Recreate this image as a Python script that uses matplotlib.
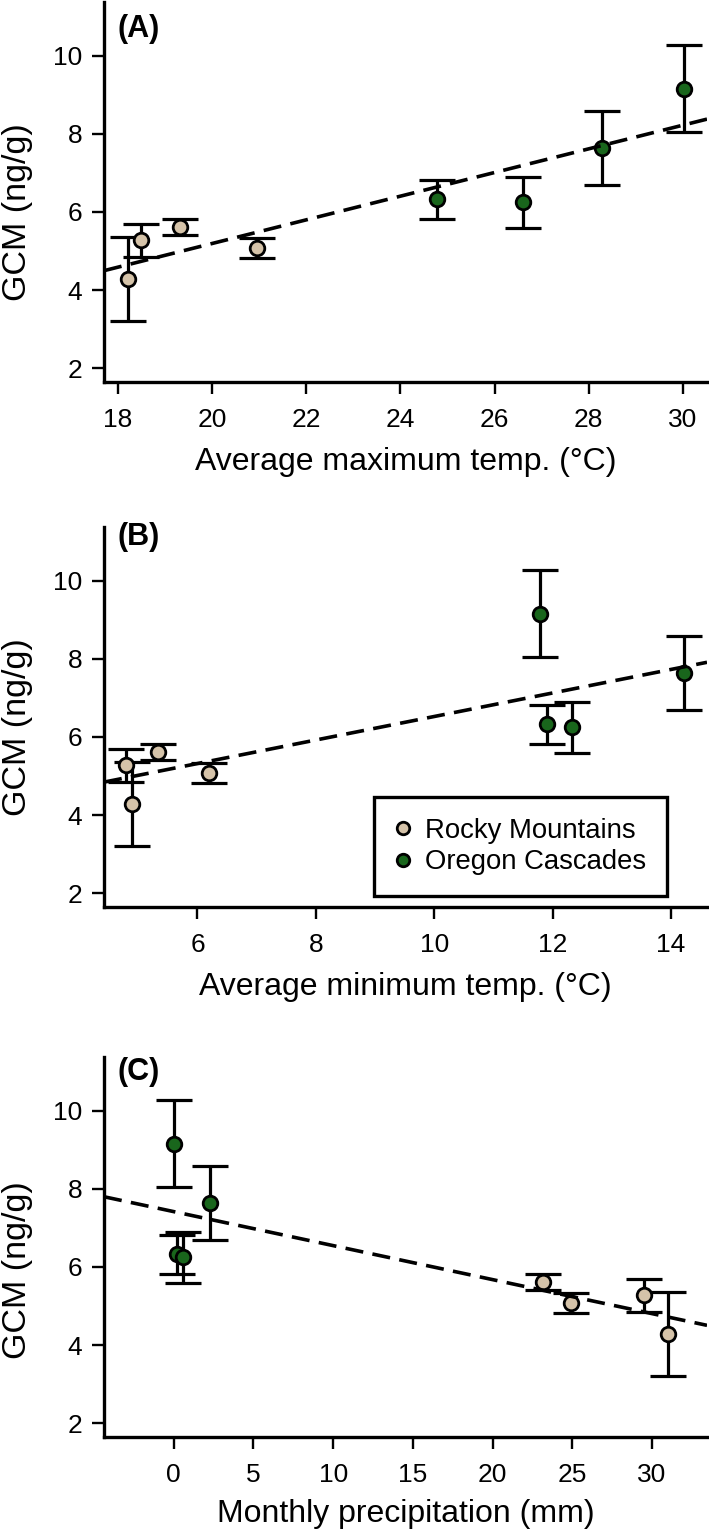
import numpy as np
import matplotlib
matplotlib.use("Agg")
import matplotlib.pyplot as plt
from matplotlib.lines import Line2D

plt.rcParams['font.family'] = ['Liberation Sans', 'DejaVu Sans']

# ---- data (site means, standard errors) ----
regions = ["Rocky Mountains"] * 4 + ["Oregon Cascades"] * 4
gcm = [4.29, 5.27, 5.62, 5.08, 6.32, 6.25, 7.63, 9.15]
gcm_se = [1.07, 0.42, 0.21, 0.25, 0.49, 0.65, 0.94, 1.11]
tmax = [18.22, 18.50, 19.33, 20.95, 24.77, 26.60, 28.28, 30.03]
tmin = [4.90, 4.79, 5.33, 6.19, 11.91, 12.33, 14.22, 11.78]
precip = [31.0, 29.51, 23.14, 24.94, 0.23, 0.57, 2.29, 0.0]

xticks_a = [18, 20, 22, 24, 26, 28, 30]
xticks_b = [6, 8, 10, 12, 14]
xticks_c = [0, 5, 10, 15, 20, 25, 30]
yticks = [2, 4, 6, 8, 10]
xlabels = ["Average maximum temp. (\u00b0C)", "Average minimum temp. (\u00b0C)",
           "Monthly precipitation (mm)"]
panel_tags = ["(A)", "(B)", "(C)"]
ylabel = "GCM (ng/g)"

colors = {"Rocky Mountains": "#d5c3a9", "Oregon Cascades": "#19661c"}

W, H = 709, 1534
fig = plt.figure(figsize=(W / 100, H / 100), dpi=100)

left = 104 / W
width = 603 / W
ah = 380 / H
bottoms = [1 - 382 / H, 1 - 907 / H, 1 - 1437 / H]
xlims = [(17.71, 30.51), (4.42, 14.61), (-4.38, 33.46)]
ylim = (1.65, 11.37)
xs = [tmax, tmin, precip]
xtick_sets = [xticks_a, xticks_b, xticks_c]
tag_y = [0.929, 0.974, 0.961]
ylab_y = [0.447, 0.474, 0.44]
xlab_y = [-0.21, -0.21, -0.203]

gcm_arr = np.array(gcm)
se_arr = np.array(gcm_se)

for i in range(3):
    ax = fig.add_axes([left, bottoms[i], width, ah])
    x = np.array(xs[i])
    for reg in ["Rocky Mountains", "Oregon Cascades"]:
        m = np.array([r == reg for r in regions])
        ax.errorbar(x[m], gcm_arr[m], yerr=se_arr[m], fmt='none', ecolor='black',
                    elinewidth=2.3, capsize=13, capthick=2.3, zorder=2)
        ax.plot(x[m], gcm_arr[m], 'o', ms=10.5, mfc=colors[reg], mec='black',
                mew=2.0, zorder=3, linestyle='none')
    slope, intercept = np.polyfit(x, gcm_arr, 1)
    xl = np.array(xlims[i])
    ax.plot(xl, intercept + slope * xl, color='black', lw=2.6,
            dashes=(5.0, 2.6), zorder=4)
    ax.set_xlim(*xlims[i])
    ax.set_ylim(*ylim)
    ax.set_xticks(xtick_sets[i])
    ax.set_yticks(yticks)
    ax.spines['top'].set_visible(False)
    ax.spines['right'].set_visible(False)
    for s in ['left', 'bottom']:
        ax.spines[s].set_linewidth(2.4)
    ax.tick_params(axis='both', direction='out', length=8.6, width=1.7,
                   labelsize=19, colors='black')
    ax.tick_params(axis='x', pad=10)
    ax.tick_params(axis='y', pad=7)
    ax.set_xlabel(xlabels[i], fontsize=23)
    ax.xaxis.set_label_coords(0.5, xlab_y[i])
    ax.xaxis.label.set_va('center')
    ax.set_ylabel(ylabel, fontsize=24.5)
    ax.yaxis.set_label_coords(-0.143, ylab_y[i])
    ax.yaxis.label.set_va('center')
    ax.text(0.0216, tag_y[i], panel_tags[i], transform=ax.transAxes,
            fontsize=22, fontweight='bold', ha='left', va='center')
    if i == 1:
        handles = [Line2D([], [], marker='o', ls='none', ms=9, mfc=colors[r],
                          mec='black', mew=2.0, label=r)
                   for r in ["Rocky Mountains", "Oregon Cascades"]]
        leg = ax.legend(handles=handles, loc='lower left',
                        bbox_to_anchor=(0.448, 0.029), fontsize=19.8,
                        frameon=True, fancybox=False, edgecolor='black',
                        framealpha=1.0,
                        handletextpad=0.5, handlelength=0.6, labelspacing=0.2,
                        borderpad=0.75, borderaxespad=0)
        leg.get_frame().set_linewidth(2.4)

fig.savefig("out.png", dpi=100)
